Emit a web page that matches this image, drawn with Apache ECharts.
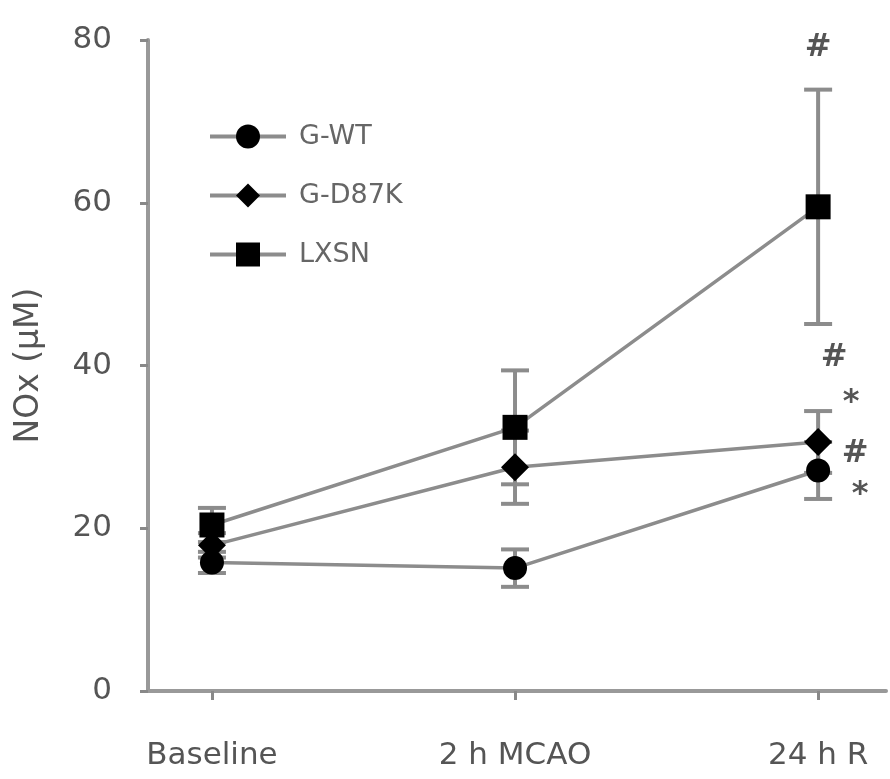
<!DOCTYPE html>
<html>
<head>
<meta charset="utf-8">
<script src="https://cdn.jsdelivr.net/npm/echarts@6/dist/echarts.min.js"></script>
<style>
  html, body { margin: 0; padding: 0; background: #fff; }
  #chart { width: 890px; height: 779px; }
</style>
</head>
<body>
<div id="chart"></div>
<script>
// time points
const categories = ['Baseline', '2 h MCAO', '24 h R'];
const seriesNames = ['G-WT', 'G-D87K', 'LXSN'];
// NOx (μM) means
const gwtMean = [15.8, 15.1, 27.1];
const d87kMean = [17.9, 27.5, 30.6];
const lxsnMean = [20.4, 32.4, 59.5];
// error (± SEM)
const gwtErr = [1.3, 2.3, 3.5];
const d87kErr = [1.5, 4.5, 3.8];
const lxsnErr = [2.1, 7.0, 14.4];
const yTicks = [0, 20, 40, 60, 80];
// significance marks: [category index, y value, text, x shift px, y shift px]
const marks = [
  [2, 79.0, '#', 0, 0],
  [2, 40.9, '#', 16, 0],
  [2, 36.0, '*', 33, 5],
  [2, 29.2, '#', 37, 0],
  [2, 24.8, '*', 42, 5]
];

const FONT = 'DejaVu Sans';
const AXIS_COLOR = '#999';
const TEXT_COLOR = '#555';
const LINE_COLOR = '#8c8c8c';

const chart = echarts.init(document.getElementById('chart'));

function toPoints(arr) {
  return arr.map((v, i) => [i, v]);
}
function toErr(mean, err) {
  return mean.map((v, i) => [i, v - err[i], v + err[i]]);
}

const errData = [].concat(toErr(gwtMean, gwtErr), toErr(d87kMean, d87kErr), toErr(lxsnMean, lxsnErr));

function renderErr(params, api) {
  const x = api.value(0);
  const lo = api.coord([x, api.value(1)]);
  const hi = api.coord([x, api.value(2)]);
  const half = 14;
  const style = { stroke: LINE_COLOR, lineWidth: 4 };
  return {
    type: 'group',
    children: [
      { type: 'line', shape: { x1: lo[0], y1: lo[1], x2: hi[0], y2: hi[1] }, style: style },
      { type: 'line', shape: { x1: lo[0] - half, y1: lo[1], x2: lo[0] + half, y2: lo[1] }, style: style },
      { type: 'line', shape: { x1: hi[0] - half, y1: hi[1], x2: hi[0] + half, y2: hi[1] }, style: style }
    ]
  };
}

function lineSeries(name, data, symbol, size) {
  return {
    name: name,
    type: 'line',
    data: toPoints(data),
    symbol: symbol,
    symbolSize: size,
    z: 5,
    itemStyle: { color: '#000' },
    lineStyle: { color: LINE_COLOR, width: 3.5 },
    emphasis: { disabled: true }
  };
}

const option = {
  animation: false,
  backgroundColor: '#fff',
  grid: { left: 148, right: 4, top: 40, bottom: 88, containLabel: false },
  legend: {
    orient: 'vertical',
    left: 203,
    top: 118,
    itemWidth: 76,
    itemHeight: 30,
    itemGap: 32,
    data: seriesNames,
    lineStyle: { width: 4 },
    textStyle: { fontFamily: FONT, fontSize: 27, color: '#666', padding: [0, 0, 0, 8] }
  },
  xAxis: {
    type: 'value',
    min: -0.211,
    max: 2.224,
    splitLine: { show: false },
    axisLine: { onZero: false, lineStyle: { color: AXIS_COLOR, width: 4 } },
    axisTick: { show: true, customValues: [0, 1, 2], length: 9, lineStyle: { color: '#888', width: 3 } },
    axisLabel: {
      customValues: [0, 1, 2],
      formatter: v => categories[Math.round(v)],
      margin: 49,
      fontFamily: FONT,
      fontSize: 31,
      color: TEXT_COLOR
    }
  },
  yAxis: {
    type: 'value',
    min: 0,
    max: 80,
    interval: 20,
    name: 'NOx (μM)',
    nameLocation: 'middle',
    nameGap: 102,
    nameTextStyle: { fontFamily: FONT, fontSize: 33, color: TEXT_COLOR },
    splitLine: { show: false },
    axisLine: { show: true, onZero: false, lineStyle: { color: AXIS_COLOR, width: 4 } },
    axisTick: { show: true, length: 8, lineStyle: { color: '#888', width: 3 } },
    axisLabel: {
      formatter: v => (yTicks.indexOf(v) >= 0 ? String(v) : ''),
      margin: 36,
      fontFamily: FONT,
      fontSize: 31,
      color: TEXT_COLOR
    }
  },
  series: [
    {
      type: 'custom',
      renderItem: renderErr,
      data: errData,
      z: 2,
      silent: true
    },
    lineSeries(seriesNames[0], gwtMean, 'circle', 24),
    lineSeries(seriesNames[1], d87kMean, 'diamond', 28),
    lineSeries(seriesNames[2], lxsnMean, 'rect', 25),
    {
      type: 'scatter',
      data: marks.map(m => ({ value: [m[0], m[1]], name: m[2], label: { offset: [m[3], m[4]] } })),
      symbolSize: 1,
      itemStyle: { color: 'rgba(0,0,0,0)' },
      silent: true,
      z: 6,
      label: {
        show: true,
        position: 'inside',
        formatter: p => p.name,
        fontFamily: FONT,
        fontSize: 32,
        fontWeight: 'bold',
        color: '#2a2a2a'
      }
    }
  ]
};

chart.setOption(option);
</script>
</body>
</html>
